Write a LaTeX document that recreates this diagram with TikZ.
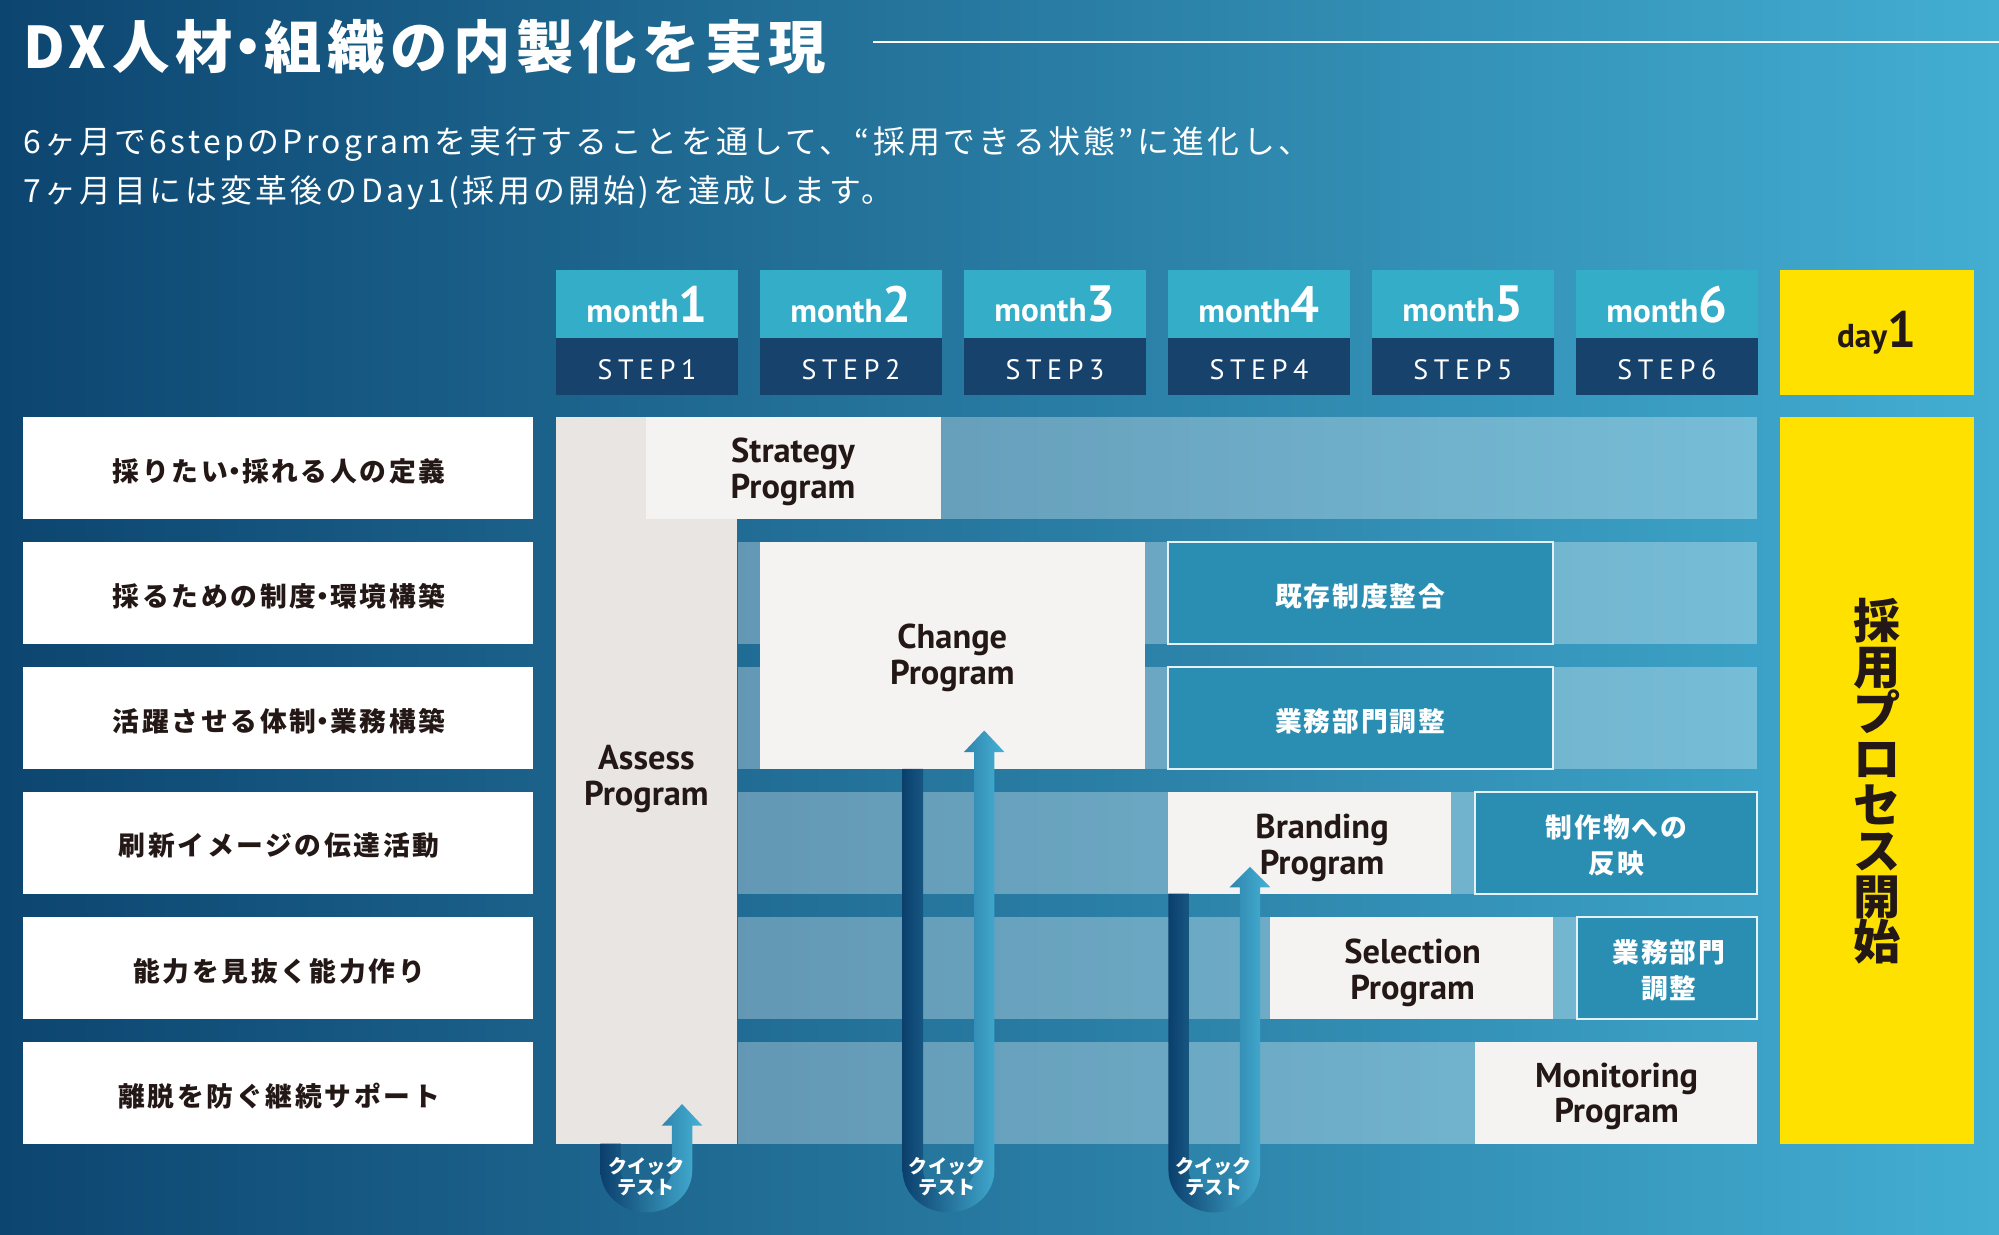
\documentclass[tikz,border=0pt]{standalone}
\usepackage{fontspec}
\setmainfont{PT Sans}
\newfontfamily\jp{Noto Sans CJK JP}
\definecolor{bgL}{HTML}{0C4570}
\definecolor{bgR}{HTML}{43AED2}
\definecolor{hcyan}{HTML}{33ADC8}
\definecolor{hnavy}{HTML}{17426C}
\definecolor{yel}{HTML}{FFE100}
\definecolor{ink}{HTML}{231815}
\definecolor{assesscol}{HTML}{E8E5E2}
\definecolor{progcol}{HTML}{F4F3F2}
\definecolor{tealcol}{HTML}{2A8DB2}
\definecolor{uL}{HTML}{0B3F6C}
\definecolor{uR}{HTML}{46B2D6}
\newcommand\qtarrow[4]{%
\shade[left color=uL, right color=uR]
 ({#1-36},#2) -- ({#1-36},918) .. controls ({#1-36},936.2) and ({#1-19.9},951) .. (#1,951)
 .. controls ({#1+19.9},951) and ({#1+36},936.2) .. ({#1+36},918)
 -- ({#1+36},#3) -- ({#1+44},#3) -- ({#1+28},#4) -- ({#1+12},#3) -- ({#1+20},#3) -- ({#1+20},918)
 .. controls ({#1+20},927.4) and ({#1+11},935) .. (#1,935)
 .. controls ({#1-11},935) and ({#1-20},927.4) .. ({#1-20},918) -- ({#1-20},#2) -- cycle;}
\newcommand\ndot{\kern-5pt・\kern-5pt}
\tikzset{
 monthbox/.style={fill=hcyan, minimum width=143, minimum height=53.5, inner sep=0, text=white},
 stepbox/.style={fill=hnavy, minimum width=143, minimum height=44.5, inner sep=0, text=white,
   font=\fontsize{22}{22}\selectfont\addfontfeature{LetterSpace=20}},
 rowlabel/.style={fill=white, minimum width=400, minimum height=80, inner sep=0},
 labeltext/.style={text=ink, inner sep=0,
   font=\jp\bfseries\fontsize{21}{28}\selectfont\addfontfeature{LetterSpace=10}},
 progbox/.style={fill=progcol, inner sep=0},
 progtext/.style={text=ink, align=center, inner sep=0, font=\bfseries\fontsize{27}{28}\selectfont},
 tealbox/.style={fill=tealcol, draw=white!88!tealcol, line width=1.5, inner sep=0},
 tealtext/.style={text=white, align=center, inner sep=0,
   font=\jp\bfseries\fontsize{21}{28}\selectfont\addfontfeature{LetterSpace=7}},
 qttext/.style={text=white, align=center, inner sep=0, font=\jp\bfseries\fontsize{15}{17}\selectfont},
}
\begin{document}
\begin{tikzpicture}[x=1pt,y=-1pt]
\useasboundingbox (0,0) rectangle (1568,968);
\shade[left color=bgL, right color=bgR] (0,0) rectangle (1568,968);
% title
\node[anchor=west, inner sep=0, text=white,
  font=\jp\bfseries\fontsize{45}{50}\selectfont\addfontfeature{LetterSpace=9.8}] (title) at (18,37)
  {DX人材{\kern-10pt・\kern-10pt}組織の内製化を実現};
\coordinate (ls) at (685,33);
\coordinate (le) at (1568,33);
\draw[white, line width=2] (ls) -- (le);
\node[anchor=west, inner sep=0, text=white, align=left,
  font=\jp\fontsize{25}{38}\selectfont\addfontfeature{LetterSpace=10.5}] (sub) at (18,132)
  {6ヶ月で6stepのProgramを実行することを通して、“採用できる状態”に進化し、\\7ヶ月目には変革後のDay1(採用の開始)を達成します。};
% headers
\foreach \i in {1,...,6}{
  \pgfmathsetmacro\cx{507.5+160*(\i-1)}
  \node[monthbox] (m\i) at (\cx,238.75) {{\bfseries\fontsize{26}{26}\selectfont month}{\bfseries\fontsize{40}{40}\selectfont\i}};
  \node[stepbox] (s\i) at (\cx,287.75) {};
  \node[text=white, inner sep=0, font=\fontsize{22}{22}\selectfont\addfontfeature{LetterSpace=20}] (st\i) at (\cx,290) {STEP\i};
}
\node[fill=yel, minimum width=152, minimum height=98, inner sep=0, text=ink] (day) at (1472,261)
  {{\bfseries\fontsize{26}{26}\selectfont day}{\bfseries\fontsize{40}{40}\selectfont 1}};
% row labels
\foreach \t [count=\k] in {採りたい\ndot 採れる人の定義, 採るための制度\ndot 環境構築, 活躍させる体制\ndot 業務構築,
  刷新イメージの伝達活動, 能力を見抜く能力作り, 離脱を防ぐ継続サポート}{
  \node[rowlabel] (r\k) at (218,{367+98*(\k-1)}) {};
  \node[labeltext] (rt\k) at (219,{369.5+98*(\k-1)}) {\t};
}
% bands
\foreach \k in {0,...,5}{
  \fill[white, opacity=.3] (579,{327+98*\k}) rectangle (1378,{407+98*\k});
}
% assess column
\node[fill=assesscol, minimum width=142, minimum height=570, inner sep=0] (assess) at (507,612) {};
\node[progtext] (assesst) at (507,611) {Assess\\Program};
% programs
\node[progbox, minimum width=231, minimum height=80] (strat) at (622.5,367) {};
\node[progtext] (stratt) at (622,370) {Strategy\\Program};
\node[progbox, minimum width=302, minimum height=178] (change) at (747,514) {};
\node[progtext] (changet) at (747,516) {Change\\Program};
\node[tealbox, minimum width=302, minimum height=80] (kizon) at (1067,465) {};
\node[tealtext] (kizont) at (1067,468) {既存制度整合};
\node[tealbox, minimum width=302, minimum height=80] (gyomu) at (1067,563) {};
\node[tealtext] (gyomut) at (1067,566) {業務部門調整};
\node[progbox, minimum width=222, minimum height=80] (brand) at (1027,661) {};
\node[progtext] (brandt) at (1037,665) {Branding\\Program};
\node[tealbox, minimum width=221, minimum height=80] (seisaku) at (1267.5,661) {};
\node[tealtext] (seisakut) at (1268,663) {制作物への\\反映};
\node[progbox, minimum width=222, minimum height=80] (select) at (1107,759) {};
\node[progtext] (selectt) at (1108,763) {Selection\\Program};
\node[tealbox, minimum width=141, minimum height=80] (gyomu2) at (1307.5,759) {};
\node[tealtext] (gyomu2t) at (1309,761) {業務部門\\調整};
\node[progbox, minimum width=221, minimum height=80] (monit) at (1267.5,857) {};
\node[progtext] (monitt) at (1268,860) {Monitoring\\Program};
% day1 column
\node[fill=yel, minimum width=152, minimum height=570, inner sep=0] (start) at (1472,612) {};
\node[text=ink, align=center, inner sep=0, font=\jp\bfseries\fontsize{37}{36}\selectfont] (startt) at (1472,613)
  {採\\用\\プ\\ロ\\セ\\ス\\開\\始};
% quick test arrows
\qtarrow{507}{897}{883}{866}
\qtarrow{744}{603}{590}{573}
\qtarrow{952.5}{701}{696}{680}
\node[qttext] (q1) at (507,923) {クイック\\テスト};
\node[qttext] (q2) at (743,923) {クイック\\テスト};
\node[qttext] (q3) at (952,923) {クイック\\テスト};
\end{tikzpicture}
\end{document}
